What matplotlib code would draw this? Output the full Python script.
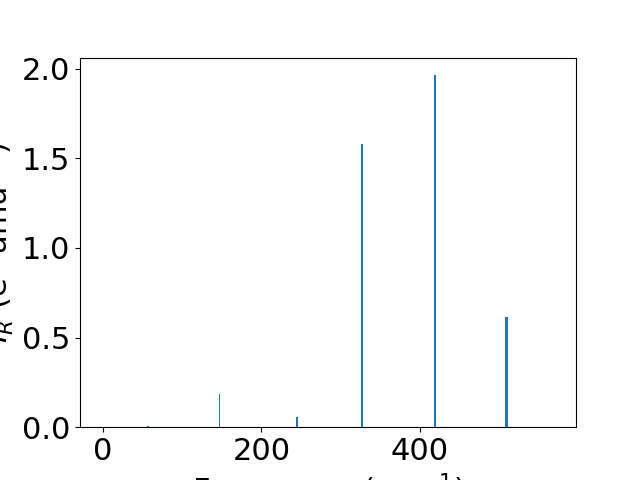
import matplotlib
matplotlib.use("Agg")
import matplotlib.pyplot as plt

frequencies = [57, 147, 244.5, 327, 418.8, 509]
intensities = [0.006, 0.184, 0.056, 1.581, 1.966, 0.615]
widths = [1.5, 1.5, 2.5, 2.0, 3.0, 3.0]

plt.rcParams['font.size'] = 22
fig, ax = plt.subplots(figsize=(6.4, 4.8), dpi=100)
ax.bar(frequencies, intensities, width=widths, color='#1f77b4')
ax.set_xlim(-28.6, 596.5)
ax.set_ylim(0, 2.061)
ax.set_xticks([0, 200, 400])
ax.set_yticks([0.0, 0.5, 1.0, 1.5, 2.0])
ax.set_xlabel('Frequency (cm$^{-1}$)')
ax.set_ylabel('$I_R$ (e$^2$ amu$^{-1}$)')
fig.savefig('out.png', dpi=100)
